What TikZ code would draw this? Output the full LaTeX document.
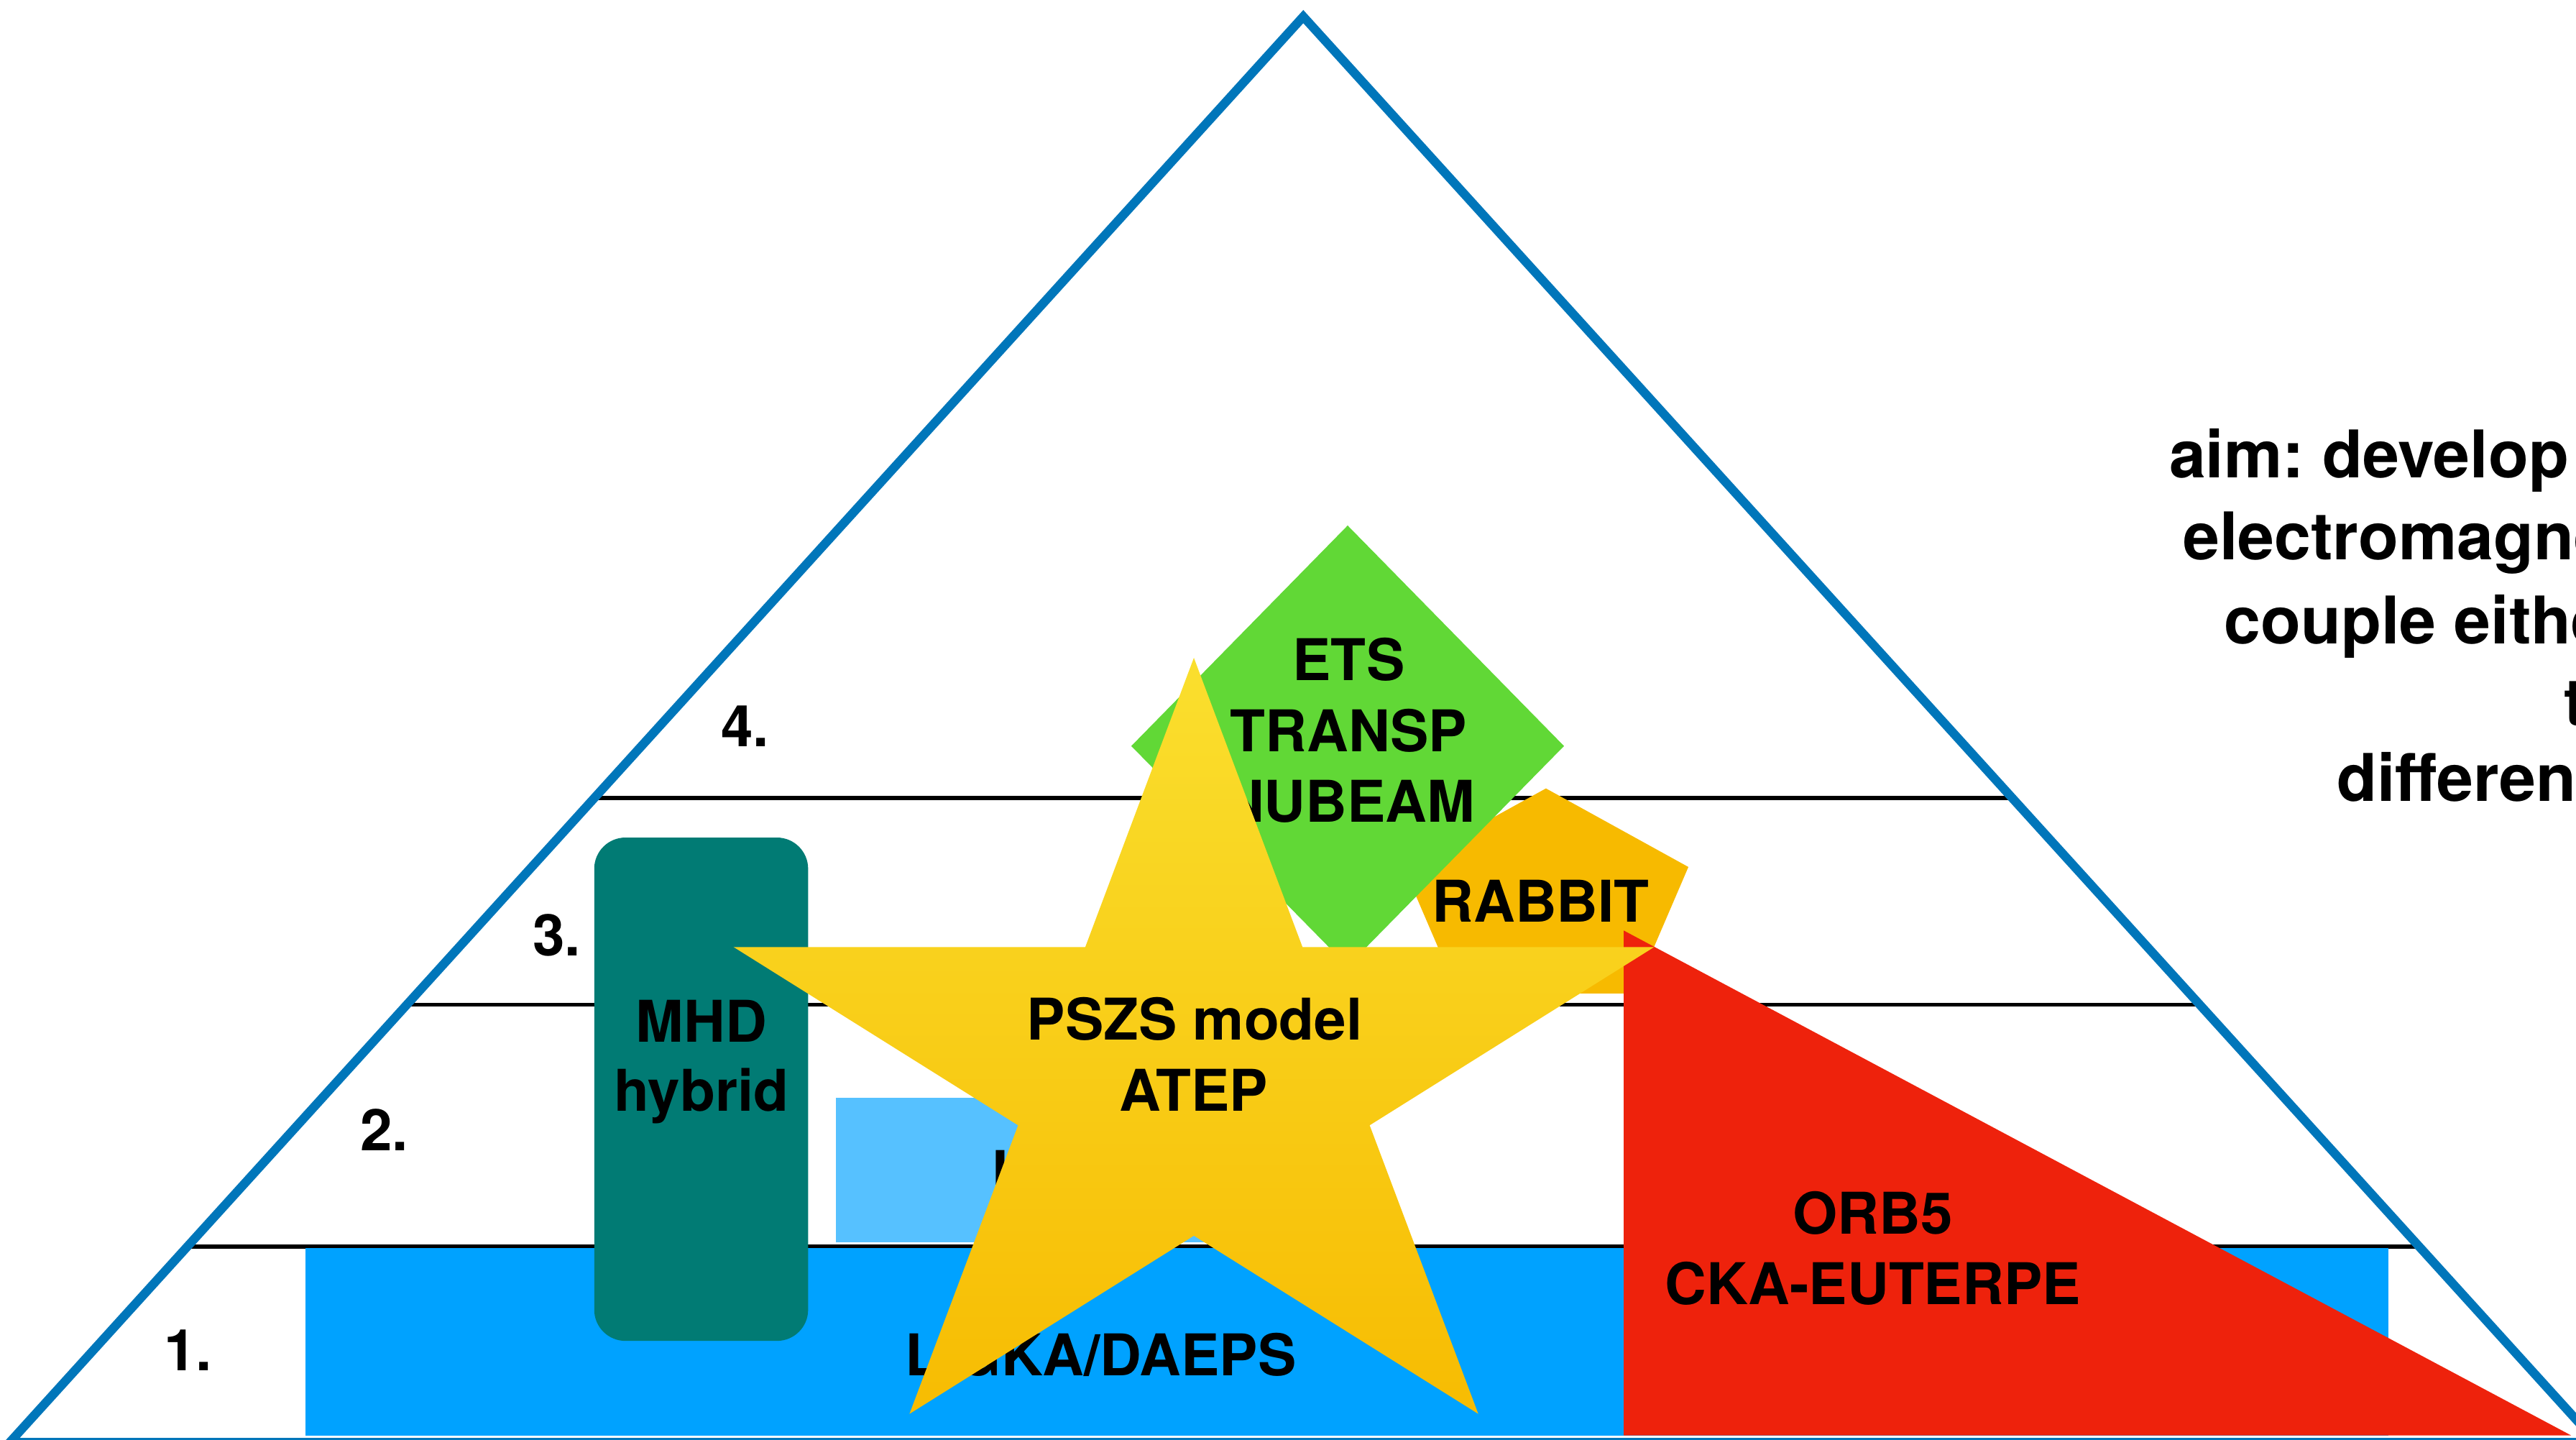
\documentclass[tikz,border=0pt]{standalone}
\usepackage{fontspec}
\setmainfont{TeX Gyre Heros}
\usetikzlibrary{calc}
\frenchspacing

\definecolor{triblue}{HTML}{0076BA}
\definecolor{lukablue}{HTML}{00A2FF}
\definecolor{hagisblue}{HTML}{56C1FF}
\definecolor{mhdteal}{HTML}{017B74}
\definecolor{etsgreen}{HTML}{61D836}
\definecolor{rabbitorange}{HTML}{F7BA00}
\definecolor{orbred}{HTML}{EE220C}
\definecolor{startop}{HTML}{FADF2E}
\definecolor{starbot}{HTML}{F7BC02}

\begin{document}
\begin{tikzpicture}[x=0.5pt,y=-0.5pt,
  lbl/.style={font=\fontsize{17.5}{21}\selectfont\bfseries, inner sep=0pt, anchor=base},
  lblw/.style={lbl, anchor=base west},
  aimtxt/.style={font=\fontsize{20}{24}\selectfont\bfseries, inner sep=0pt, anchor=base west},
  levelline/.style={line width=1.15pt, black},
  frame/.style={line width=2.7pt, draw=triblue, line join=miter},
]
\path[use as bounding box] (0,0) rectangle (1568,876.3);
\clip (0,0) rectangle (1568,876.3);

% pyramid outline
\coordinate (apex) at (793.3,10.1);
\coordinate (bl) at (5.97,877.7);
\coordinate (br) at (1580.6,877.7);

% level separators, from edge to edge
\draw[levelline] ($(apex)!0.8627!(bl)$) -- ($(apex)!0.8627!(br)$);
\draw[levelline] ($(apex)!0.6929!(bl)$) -- ($(apex)!0.6929!(br)$);
\draw[levelline] ($(apex)!0.5481!(bl)$) -- ($(apex)!0.5481!(br)$);

\draw[frame] (apex) -- (bl) -- (br) -- cycle;

% level numbers
\node[lbl] (n1) at (114.4,834.2) {1.};
\node[lbl] (n2) at (234,700.4) {2.};
\node[lbl] (n3) at (339,581.6) {3.};
\node[lbl] (n4) at (453.6,454.3) {4.};

% level 1 bar
\fill[lukablue] (186,759.4) rectangle (1454,873.5);
\node[lblw] (ligka) at (550.7,837) {LIGKA/DAEPS};

% level 2 box
\fill[hagisblue] (508.9,668.2) rectangle (805,756.2);
\node[lblw] (hagis) at (603.6,725.5) {HAGIS};

% MHD hybrid column
\fill[mhdteal, rounded corners=9.5pt] (361.7,509.7) rectangle (491.9,816);
\node[lbl] (mhd1) at (427,634) {MHD};
\node[lbl] (mhd2) at (427,676) {hybrid};

% RABBIT pentagon
\fill[rabbitorange] (941,479.8) -- (1027.7,527.6) -- (994.6,604.6)
  -- (887.4,604.6) -- (854.3,527.6) -- cycle;
\node[lbl] (rabbit) at (937.8,561.2) {RABBIT};

% transport codes diamond
\fill[etsgreen] (820.3,319.8) -- (952,454) -- (820.3,588) -- (688.6,454) -- cycle;
\node[lbl] (ets) at (820.9,414.2) {ETS};
\node[lbl] (transp) at (820.9,457.2) {TRANSP};
\node[lbl] (nubeam) at (821,500.2) {NUBEAM};

% gyrokinetic codes wedge
\fill[orbred] (988.4,566.3) -- (1565,873.5) -- (988.4,873.5) -- cycle;
\node[lbl] (orb) at (1140,751) {ORB5};
\node[lbl] (cka) at (1140,794) {CKA-EUTERPE};

% star
\shade[top color=startop, bottom color=starbot]
  (726.7,400.3) -- (792.8,576.3) -- (1006.9,576.3) -- (833.7,684.8)
  -- (899.8,860.4) -- (726.7,752) -- (553.6,860.4) -- (619.7,684.8)
  -- (446.5,576.3) -- (660.6,576.3) -- cycle;
\node[lbl] (pszs) at (727.2,633) {PSZS model};
\node[lbl] (atep) at (726.5,676.2) {ATEP};

% aim statement
\node[aimtxt] (aim1) at (1320,290.6) {aim: develop};
\node[aimtxt] (aim2) at (1328.5,340.6) {electromagnetic};
\node[aimtxt] (aim3) at (1353.5,391.9) {couple either};
\node[aimtxt] (aim4) at (1560.5,441.5) {t};
\node[aimtxt] (aim5) at (1422,487.5) {different};
\end{tikzpicture}
\end{document}
